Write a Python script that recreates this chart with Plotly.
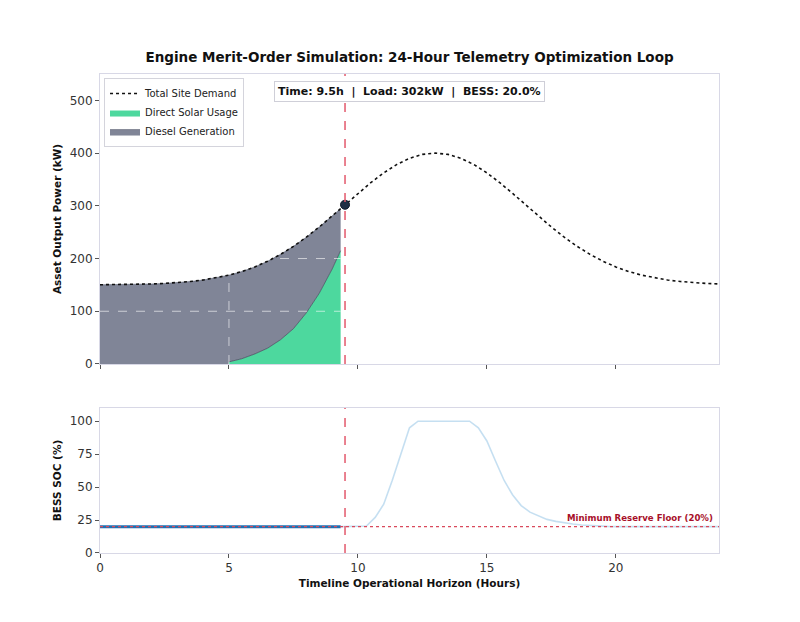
import numpy as np
import plotly.graph_objects as go

# ---------------- data ----------------
demand_hours = list(np.arange(0, 24.01, 0.5))
demand_kw = [150.3, 150.4, 150.7, 151.2, 151.8, 152.8, 154.3, 156.4, 159.3, 163.2,
             168.5, 175.4, 184.1, 194.9, 207.9, 223.1, 240.5, 259.8, 280.5, 302.0,
             323.4, 343.9, 362.5, 378.1, 390.0, 397.5, 400.0, 397.5, 390.0, 378.1,
             362.5, 343.9, 323.4, 302.0, 280.5, 259.8, 240.5, 223.1, 207.9, 194.9,
             184.1, 175.4, 168.5, 163.2, 159.3, 156.4, 154.3, 152.8, 151.8]

hist_hours = [0, 0.5, 1, 1.5, 2, 2.5, 3, 3.5, 4, 4.5, 4.99, 5, 5.5, 6, 6.5, 7, 7.5, 8, 8.5, 9, 9.33]
hist_demand = [150.3, 150.4, 150.7, 151.2, 151.8, 152.8, 154.3, 156.4, 159.3, 163.2, 168.4,
               168.5, 175.4, 184.1, 194.9, 207.9, 223.1, 240.5, 259.8, 280.5, 294.6]
hist_solar = [0, 0, 0, 0, 0, 0, 0, 0, 0, 0, 0,
              4, 10, 19, 30, 46, 67, 97, 134, 180, 215]
solar_start = 11  # index of first sample with solar output

soc_hist_hours = [0, 9.33]
soc_hist = [20, 20]
soc_fc_hours = [9.33, 9.67, 10.0, 10.33, 10.67, 11.0, 11.33, 11.67, 12.0, 12.33,
                12.67, 13.0, 13.33, 13.67, 14.0, 14.33, 14.67, 15.0, 15.33, 15.67,
                16.0, 16.33, 16.67, 17.0, 17.33, 17.67, 18.0, 18.33, 18.67, 19.0,
                19.33, 19.67, 20.0, 21.0, 22.0, 23.0, 24.0]
soc_fc = [20, 20, 20, 20.5, 27, 37, 55, 76, 95, 100,
          100, 100, 100, 100, 100, 100, 95, 85, 70, 55,
          44, 36, 31, 28, 25.5, 24, 22.8, 22, 21.3, 20.8,
          20.5, 20.2, 20, 20, 20, 20, 20]

now_hour = 9.5
now_load = 302
now_soc = 20.0
reserve_floor = 20
top_ticks = [0, 100, 200, 300, 400, 500]
bot_ticks = [0, 25, 50, 75, 100]
x_ticks = [0, 5, 10, 15, 20]

FONT = "DejaVu Sans"
GREEN = "rgba(52,211,145,0.88)"
SLATE = "rgba(100,106,128,0.82)"
RED = "#e3596c"

fig = go.Figure()

fig.add_trace(go.Scatter(x=hist_hours, y=hist_solar, mode="lines", fill="tozeroy",
                         fillcolor=GREEN, line=dict(color="rgba(0,0,0,0)", width=0),
                         name="Direct Solar Usage", legendrank=2, xaxis="x", yaxis="y"))
fig.add_trace(go.Scatter(x=hist_hours, y=hist_demand, mode="lines", fill="tonexty",
                         fillcolor=SLATE, line=dict(color="rgba(70,75,95,0.8)", width=0.6),
                         name="Diesel Generation", legendrank=3, xaxis="x", yaxis="y"))
fig.add_trace(go.Scatter(x=hist_hours[solar_start:], y=hist_solar[solar_start:], mode="lines",
                         line=dict(color="rgba(50,55,75,0.75)", width=0.8),
                         showlegend=False, hoverinfo="skip", xaxis="x", yaxis="y"))
fig.add_trace(go.Scatter(x=demand_hours, y=demand_kw, mode="lines",
                         line=dict(color="#111111", width=1.6, dash="dot"),
                         name="Total Site Demand", legendrank=1, xaxis="x", yaxis="y"))
fig.add_trace(go.Scatter(x=[now_hour], y=[now_load], mode="markers",
                         marker=dict(size=9, color="#1e2e44", line=dict(color="#0f1a2a", width=1)),
                         showlegend=False, xaxis="x", yaxis="y"))

fig.add_trace(go.Scatter(x=soc_fc_hours, y=soc_fc, mode="lines",
                         line=dict(color="rgba(150,196,230,0.55)", width=1.6),
                         showlegend=False, xaxis="x2", yaxis="y2"))
fig.add_trace(go.Scatter(x=soc_hist_hours, y=soc_hist, mode="lines",
                         line=dict(color="#1f6fb2", width=3),
                         showlegend=False, xaxis="x2", yaxis="y2"))

shapes = []
for gy in [100, 200]:
    shapes.append(dict(type="line", xref="x", yref="y", x0=0, x1=hist_hours[-1], y0=gy, y1=gy,
                       line=dict(color="rgba(255,255,255,0.6)", width=1, dash="dash"), layer="above"))
shapes.append(dict(type="line", xref="x", yref="y", x0=5, x1=5, y0=0, y1=hist_demand[solar_start],
                   line=dict(color="rgba(255,255,255,0.6)", width=1, dash="dash"), layer="above"))
shapes.append(dict(type="line", xref="x2 domain", yref="y2", x0=0, x1=1, y0=reserve_floor, y1=reserve_floor,
                   line=dict(color="#d94a5c", width=1.3, dash="dot"), layer="above"))
for xr, yr in [("x", "y domain"), ("x2", "y2 domain")]:
    shapes.append(dict(type="line", xref=xr, yref=yr, x0=now_hour, x1=now_hour, y0=0, y1=1,
                       line=dict(color=RED, width=1.5, dash="dash"), layer="above"))

annotations = [
    dict(text="<b>Time: %.1fh  |  Load: %dkW  |  BESS: %.1f%%</b>" % (now_hour, now_load, now_soc),
         xref="x domain", yref="y domain", x=0.5, y=0.938, xanchor="center", yanchor="middle",
         showarrow=False, font=dict(family=FONT, size=11, color="#111"),
         bgcolor="white", bordercolor="#cfcfd8", borderwidth=1, borderpad=3),
    dict(text="<b>Minimum Reserve Floor (20%)</b>", xref="x2", yref="y2", x=23.85, y=reserve_floor + 1.5,
         xanchor="right", yanchor="bottom", showarrow=False,
         font=dict(family=FONT, size=8.6, color="#a8102a")),
]

axis_common = dict(showline=True, mirror=True, linecolor="#d8d8e6", linewidth=1,
                   ticks="outside", ticklen=4, tickcolor="#555", showgrid=False, zeroline=False,
                   tickfont=dict(family=FONT, size=12, color="#333"))

fig.update_layout(
    width=800, height=622,
    margin=dict(l=100, r=81, t=74, b=69),
    paper_bgcolor="white", plot_bgcolor="white",
    title=dict(text="<b>Engine Merit-Order Simulation: 24-Hour Telemetry Optimization Loop</b>",
               x=0.5, xref="paper", xanchor="center", y=1 - 57 / 622, yref="container", yanchor="middle",
               font=dict(family=FONT, size=13.5, color="#111")),
    xaxis=dict(domain=[0, 1], anchor="y", range=[0, 24], tickvals=x_ticks, showticklabels=False, **axis_common),
    yaxis=dict(domain=[0.3946, 1], anchor="x", range=[0, 550], tickvals=top_ticks,
               title=dict(text="<b>Asset Output Power (kW)</b>", standoff=6,
                          font=dict(family=FONT, size=10.5, color="#111")), **axis_common),
    xaxis2=dict(domain=[0, 1], anchor="y2", range=[0, 24], tickvals=x_ticks, matches="x",
                title=dict(text="<b>Timeline Operational Horizon (Hours)</b>", standoff=5,
                           font=dict(family=FONT, size=10.5, color="#111")), **axis_common),
    yaxis2=dict(domain=[0, 0.3027], anchor="x2", range=[0, 110], tickvals=bot_ticks,
                title=dict(text="<b>BESS SOC (%)</b>", standoff=6,
                           font=dict(family=FONT, size=10.5, color="#111")), **axis_common),
    legend=dict(x=0.0065, y=0.9916, xanchor="left", yanchor="top", bgcolor="rgba(255,255,255,0.9)",
                bordercolor="#d4d4dc", borderwidth=1, font=dict(family=FONT, size=10, color="#222"),
                itemwidth=30, tracegroupgap=0, traceorder="normal"),
    shapes=shapes, annotations=annotations,
)

fig.write_html("out.html")
